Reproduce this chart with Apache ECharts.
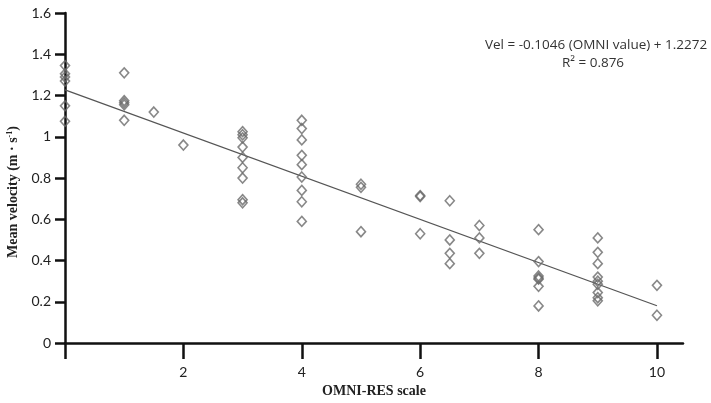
<!DOCTYPE html>
<html>
<head>
<meta charset="utf-8">
<script src="https://cdn.jsdelivr.net/npm/echarts@6/dist/echarts.min.js"></script>
<style>html,body{margin:0;padding:0;background:#fff;}#c{width:711px;height:403px;}</style>
</head>
<body>
<div id="c"></div>
<script>
// OMNI-RES score per observation
var omniScores = [
  0, 0, 0, 0, 0, 0,
  1, 1, 1, 1, 1,
  1.5,
  2,
  3, 3, 3, 3, 3, 3, 3, 3, 3,
  4, 4, 4, 4, 4, 4, 4, 4, 4,
  5, 5, 5,
  6, 6, 6,
  6.5, 6.5, 6.5, 6.5,
  7, 7, 7,
  8, 8, 8, 8, 8, 8, 8,
  9, 9, 9, 9, 9, 9, 9, 9, 9,
  10, 10
];
// Mean velocity (m/s) per observation
var meanVelocities = [
  1.345, 1.305, 1.29, 1.27, 1.15, 1.075,
  1.31, 1.175, 1.165, 1.155, 1.08,
  1.12,
  0.96,
  1.025, 1.01, 0.995, 0.95, 0.90, 0.85, 0.80, 0.695, 0.68,
  1.08, 1.04, 0.985, 0.91, 0.865, 0.805, 0.74, 0.685, 0.59,
  0.77, 0.755, 0.54,
  0.715, 0.71, 0.53,
  0.69, 0.50, 0.435, 0.385,
  0.57, 0.51, 0.435,
  0.55, 0.395, 0.325, 0.315, 0.31, 0.275, 0.18,
  0.51, 0.44, 0.385, 0.32, 0.30, 0.285, 0.245, 0.22, 0.205,
  0.28, 0.135
];
// Regression fit shown on chart
var fitSlope = -0.1046;
var fitIntercept = 1.2272;
var fitRange = [0, 10];
var xTickValues = [0, 2, 4, 6, 8, 10];
var xLabelValues = [2, 4, 6, 8, 10];

var points = omniScores.map(function (x, i) { return [x, meanVelocities[i]]; });
var fitLine = fitRange.map(function (x) { return [x, fitIntercept + fitSlope * x]; });

var chart = echarts.init(document.getElementById('c'), null, {renderer: 'canvas'});
var labelFont = 'Lato, "Open Sans", sans-serif';
chart.setOption({
  animation: false,
  backgroundColor: '#fff',
  grid: {left: 65, right: 28, top: 13, bottom: 56, containLabel: false},
  xAxis: {
    type: 'value', min: 0, max: 10.44,
    name: 'OMNI-RES scale', nameLocation: 'middle', nameGap: 40,
    nameTextStyle: {fontFamily: '"Liberation Serif", "DejaVu Serif", serif', fontWeight: 'bold', fontSize: 14, color: '#222'},
    axisLine: {show: true, lineStyle: {color: '#111', width: 2.5}},
    axisTick: {show: true, inside: false, length: 16, lineStyle: {color: '#111', width: 2.5}, customValues: xTickValues},
    axisLabel: {margin: 22, fontSize: 14, color: '#222', fontFamily: labelFont, customValues: xLabelValues},
    splitLine: {show: false}
  },
  yAxis: {
    type: 'value', min: 0, max: 1.6, interval: 0.2,
    axisLine: {show: true, lineStyle: {color: '#111', width: 2.5}},
    axisTick: {show: true, length: 10, lineStyle: {color: '#111', width: 2.5}},
    axisLabel: {margin: 14, fontSize: 14, color: '#222', fontFamily: labelFont},
    splitLine: {show: false}
  },
  graphic: [
    {
      type: 'text', x: 13, y: 192, rotation: Math.PI / 2,
      style: {
        text: '{b|Mean velocity (m · s}{s|-1}{b|)}',
        align: 'center', verticalAlign: 'middle',
        rich: {
          b: {fontFamily: '"Liberation Serif", "DejaVu Serif", serif', fontWeight: 'bold', fontSize: 14, fill: '#222'},
          s: {fontFamily: '"Liberation Serif", "DejaVu Serif", serif', fontWeight: 'bold', fontSize: 8, fill: '#222', verticalAlign: 'top', padding: [0, 0, 6, 0]}
        }
      }
    },
    {
      type: 'text', x: 596, y: 45,
      style: {text: 'Vel = -0.1046 (OMNI value) + 1.2272', align: 'center', verticalAlign: 'middle',
        fontFamily: '"Open Sans", "Noto Sans", sans-serif', fontSize: 13.5, fill: '#333'}
    },
    {
      type: 'text', x: 593, y: 63,
      style: {text: 'R² = 0.876', align: 'center', verticalAlign: 'middle',
        fontFamily: '"Open Sans", "Noto Sans", sans-serif', fontSize: 13.5, fill: '#333'}
    }
  ],
  series: [
    {
      type: 'line', data: fitLine, symbol: 'none', silent: true,
      lineStyle: {color: '#555', width: 1.2}, z: 1
    },
    {
      type: 'scatter', data: points, symbol: 'diamond', symbolSize: [9, 10],
      itemStyle: {color: 'rgba(255,255,255,0)', borderColor: '#6a6a6a', borderWidth: 1.6},
      z: 2
    }
  ]
});
</script>
</body>
</html>
